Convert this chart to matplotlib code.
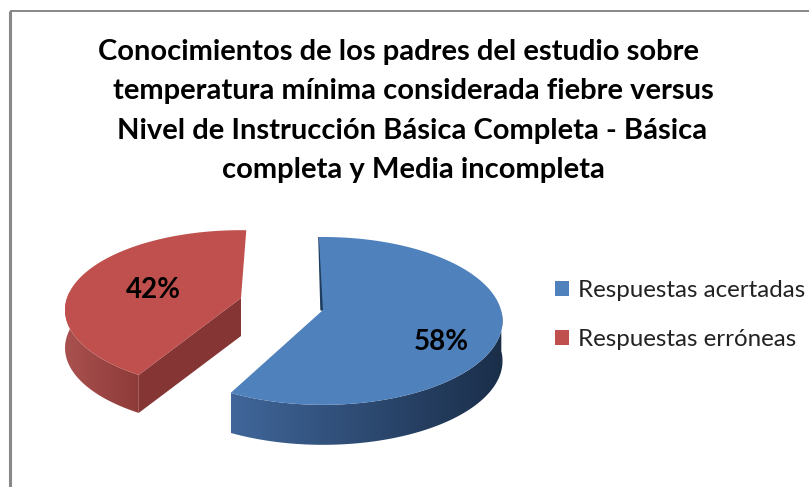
import numpy as np
import matplotlib
matplotlib.use("Agg")
import matplotlib.pyplot as plt
from matplotlib.colors import LinearSegmentedColormap
from matplotlib.patches import Patch, Polygon

# Data
labels = ["Respuestas acertadas", "Respuestas erróneas"]
values = [58, 42]
title_lines = [
    "Conocimientos de los padres del estudio sobre",
    "temperatura mínima considerada fiebre versus",
    "Nivel de Instrucción Básica Completa - Básica",
    "completa y Media incompleta",
]

plt.rcParams["font.family"] = ["Lato", "DejaVu Sans"]

fig = plt.figure(figsize=(8.09, 4.87), dpi=100)
ax = fig.add_axes([0, 0, 1, 1])


def rim(theta, apex, sx, sy, p):
    # circle seen in perspective, theta in degrees
    t = np.deg2rad(theta)
    w = 1 + p * np.sin(t)
    return apex[0] + sx * np.cos(t) / w, apex[1] - sy * np.sin(t) / w


def gradient_side(xs, ys, depth, c_left, c_right):
    # outer wall of a slice, shaded from left to right
    px = np.r_[xs, xs[::-1]]
    py = np.r_[ys, ys[::-1] + depth]
    patch = Polygon(np.c_[px, py], closed=True, fc="none", ec="none")
    ax.add_patch(patch)
    cmap = LinearSegmentedColormap.from_list("side", [c_left, c_right])
    im = ax.imshow(np.linspace(0, 1, 256)[None, :], cmap=cmap, aspect="auto",
                   extent=(px.min(), px.max(), py.max(), py.min()), zorder=2)
    im.set_clip_path(patch)


# Blue slice, clockwise from the top
blue_sweep = 360 * values[0] / sum(values)
blue_apex = (323, 310)
th = np.linspace(91.5, 91.5 - blue_sweep, 200)
bx, by = rim(th, blue_apex, 178, 82.5, 0.13)
front = th < 0
gradient_side(bx[front], by[front], 40, "#40669a", "#1a2e49")
ax.fill([bx[0], blue_apex[0] - 2, blue_apex[0]], [by[0], blue_apex[1], blue_apex[1]],
        color="#1f3d5e", zorder=3)
ax.fill(np.r_[blue_apex[0], bx], np.r_[blue_apex[1], by], color="#4f81bd", lw=0, zorder=4)

# Red slice, counter-clockwise from the top
red_sweep = 360 * values[1] / sum(values)
red_apex = (241, 298)
th = np.linspace(88, 88 + red_sweep, 200)
rx, ry = rim(th, red_apex, 174, 78, 0.15)
front = th > 175
gradient_side(rx[front], ry[front], 38, "#a9514f", "#8d3b39")
ax.fill([red_apex[0], rx[-1], rx[-1], red_apex[0]],
        [red_apex[1], ry[-1], ry[-1] + 38, red_apex[1] + 38],
        color="#843534", lw=0, zorder=3)
ax.fill(np.r_[red_apex[0], rx], np.r_[red_apex[1], ry], color="#c0504d", lw=0, zorder=4)

# Data labels
ax.text(153, 290, f"{values[1]}%", ha="center", va="center", fontsize=20,
        fontweight="bold", color="black", zorder=5)
ax.text(441, 342, f"{values[0]}%", ha="center", va="center", fontsize=20,
        fontweight="bold", color="black", zorder=5)

# Title
title_x = [399, 413, 412, 413]
for i, line in enumerate(title_lines):
    ax.text(title_x[i], 52 + i * 39.3, line, ha="center", va="center", fontsize=21,
            fontweight="bold", color="black")

# Frame of the chart area
ax.plot([10.5, 10.5], [487, 10.5], color="#888888", lw=2.2, solid_capstyle="butt")
ax.plot([10.5, 809], [10.5, 10.5], color="#888888", lw=1.4, solid_capstyle="butt")

handles = [Patch(fc="#4f81bd", ec="none"), Patch(fc="#c0504d", ec="none")]
ax.legend(handles, labels, loc="upper left", bbox_to_anchor=(555, 280),
          bbox_transform=ax.transData, frameon=False, fontsize=17.4,
          handlelength=0.58, handleheight=0.58, handletextpad=0.37,
          labelspacing=1.175, borderpad=0, borderaxespad=0, labelcolor="#222222")

ax.set_xlim(0, 809)
ax.set_ylim(487, 0)
ax.axis("off")
fig.savefig("out.png", dpi=100)
